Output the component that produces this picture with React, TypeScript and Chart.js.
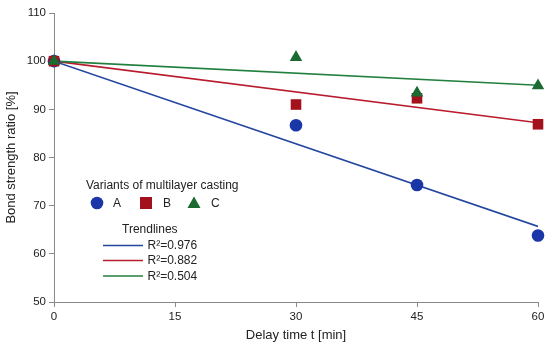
import React, { useEffect, useRef } from "react";
import { Chart, registerables } from "chart.js";

Chart.register(...registerables);

const xValues = [0, 30, 45, 60];
const variantA = [100, 86.7, 74.3, 63.8];
const variantB = [100, 91.0, 92.3, 86.9];
const variantC = [100, 100.8, 93.4, 94.9];
const trendX = [0, 60];
const trendA = [100, 65.7];
const trendB = [100, 87.2];
const trendC = [100, 95.0];
const variantLabels = ["A", "B", "C"];
const trendLabels = ["R\u00B2=0.976", "R\u00B2=0.882", "R\u00B2=0.504"];
const legendTitle = "Variants of multilayer casting";
const trendTitle = "Trendlines";
const xTicks = [0, 15, 30, 45, 60];

const FONT = "'Liberation Sans', Arial, sans-serif";
const cBlue = "#1b36a6";
const cRed = "#a3121c";
const cGreen = "#1b6a32";
const lBlue = "#2446a0";
const lRed = "#b81c2e";
const lGreen = "#22803e";

const pts = (xs: number[], ys: number[]) => xs.map((x, i) => ({ x, y: ys[i] }));

const legendPlugin = {
  id: "customLegend",
  afterDraw(chart: any) {
    const ctx = chart.ctx as CanvasRenderingContext2D;
    ctx.save();
    ctx.font = `12px ${FONT}`;
    ctx.fillStyle = "#222";
    ctx.textBaseline = "middle";
    ctx.textAlign = "left";
    ctx.fillText(legendTitle, 86, 186);
    const rowY = 203;
    ctx.fillStyle = cBlue;
    ctx.beginPath();
    ctx.arc(97, rowY, 6.3, 0, Math.PI * 2);
    ctx.fill();
    ctx.fillStyle = cRed;
    ctx.fillRect(140, rowY - 6, 12, 12);
    ctx.fillStyle = cGreen;
    ctx.beginPath();
    ctx.moveTo(194, rowY - 6.5);
    ctx.lineTo(200.5, rowY + 5);
    ctx.lineTo(187.5, rowY + 5);
    ctx.closePath();
    ctx.fill();
    ctx.fillStyle = "#222";
    ctx.fillText(variantLabels[0], 113, rowY + 0.5);
    ctx.fillText(variantLabels[1], 163, rowY + 0.5);
    ctx.fillText(variantLabels[2], 211, rowY + 0.5);
    ctx.fillText(trendTitle, 122, 230);
    const lineYs = [245.5, 260.5, 276];
    const cols = [lBlue, lRed, lGreen];
    lineYs.forEach((y, i) => {
      ctx.strokeStyle = cols[i];
      ctx.lineWidth = 1.5;
      ctx.beginPath();
      ctx.moveTo(103, y);
      ctx.lineTo(143, y);
      ctx.stroke();
      ctx.fillStyle = "#222";
      ctx.fillText(trendLabels[i], 147.5, y + 0.5);
    });
    ctx.restore();
  },
};

export default function App() {
  const ref = useRef<HTMLCanvasElement>(null);
  useEffect(() => {
    document.body.style.margin = "0";
    const canvas = ref.current!;
    const chart = new Chart(canvas, {
      type: "scatter",
      data: {
        datasets: [
          {
            label: "C",
            data: pts(xValues, variantC),
            pointStyle: "triangle",
            pointRadius: 7.2,
            backgroundColor: cGreen,
            borderColor: cGreen,
            borderWidth: 0,
            clip: false,
            order: 1,
          },
          {
            label: "B",
            data: pts(xValues, variantB),
            pointStyle: "rect",
            pointRadius: 7.5,
            backgroundColor: cRed,
            borderColor: cRed,
            borderWidth: 0,
            clip: false,
            order: 2,
          },
          {
            label: "A",
            data: pts(xValues, variantA),
            pointStyle: "circle",
            pointRadius: 6.3,
            backgroundColor: cBlue,
            borderColor: cBlue,
            borderWidth: 0,
            clip: false,
            order: 3,
          },
          {
            label: trendLabels[2],
            data: pts(trendX, trendC),
            showLine: true,
            pointRadius: 0,
            borderColor: lGreen,
            borderWidth: 1.6,
            order: 4,
          },
          {
            label: trendLabels[1],
            data: pts(trendX, trendB),
            showLine: true,
            pointRadius: 0,
            borderColor: lRed,
            borderWidth: 1.6,
            order: 5,
          },
          {
            label: trendLabels[0],
            data: pts(trendX, trendA),
            showLine: true,
            pointRadius: 0,
            borderColor: lBlue,
            borderWidth: 1.6,
            order: 6,
          },
        ],
      },
      options: {
        animation: false,
        responsive: false,
        layout: { padding: { top: 13, right: 12, left: 0, bottom: 0 } },
        plugins: { legend: { display: false }, tooltip: { enabled: false } },
        scales: {
          x: {
            type: "linear",
            min: 0,
            max: 60,
            afterBuildTicks: (s: any) => {
              s.ticks = xTicks.map((v) => ({ value: v }));
            },
            afterFit: (s: any) => {
              s.height = 48;
            },
            grid: {
              display: true,
              drawOnChartArea: false,
              drawTicks: true,
              tickLength: 5,
              color: "#8a8a8a",
            },
            border: { display: true, color: "#8a8a8a" },
            ticks: {
              color: "#222",
              font: { family: FONT, size: 11.5 },
              padding: 3,
              maxRotation: 0,
            },
            title: {
              display: true,
              text: "Delay time t [min]",
              color: "#222",
              font: { family: FONT, size: 13 },
              padding: { top: 0, bottom: 7 },
            },
          },
          y: {
            type: "linear",
            min: 50,
            max: 110,
            ticks: {
              stepSize: 10,
              color: "#222",
              font: { family: FONT, size: 11.5 },
              padding: 3,
            },
            afterFit: (s: any) => {
              s.width = 54;
            },
            grid: {
              display: true,
              drawOnChartArea: false,
              drawTicks: true,
              tickLength: 5,
              color: "#8a8a8a",
            },
            border: { display: true, color: "#8a8a8a" },
            title: {
              display: true,
              text: "Bond strength ratio [%]",
              color: "#222",
              font: { family: FONT, size: 13 },
              padding: { top: 4, bottom: 0 },
            },
          },
        },
      },
      plugins: [legendPlugin],
    });
    return () => chart.destroy();
  }, []);
  return <canvas ref={ref} width={550} height={350} style={{ display: "block" }} />;
}
